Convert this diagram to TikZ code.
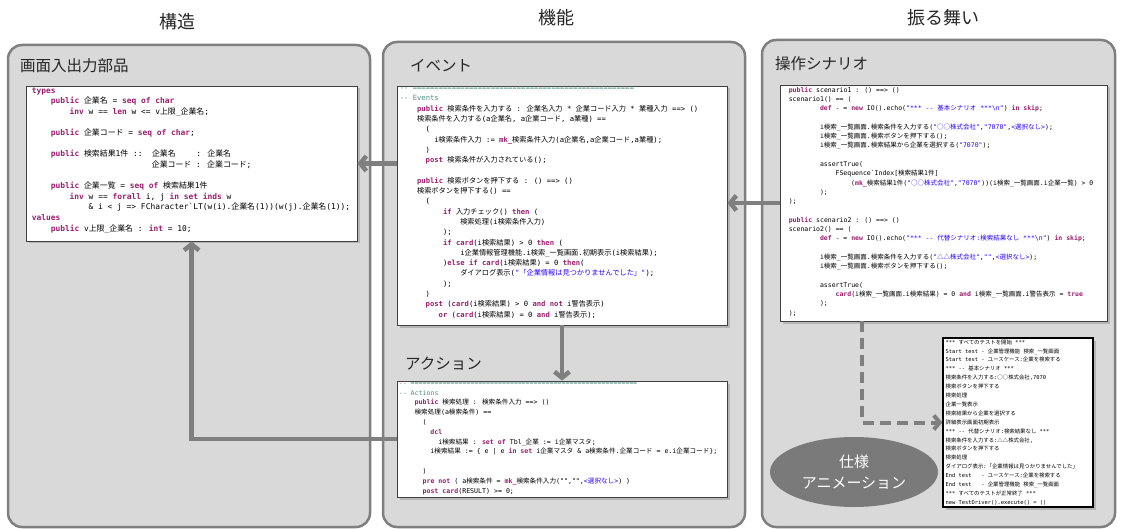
\documentclass[tikz,border=0pt]{standalone}
\usepackage{fontspec}
\usetikzlibrary{arrows.meta,shadows,shapes.geometric}
\setmainfont{Noto Sans CJK JP}
\newfontfamily\cjkf{Noto Sans CJK JP}
\newfontfamily\monof{DejaVu Sans Mono}
\newXeTeXintercharclass\CJKcls
\count255="2500 \loop \XeTeXcharclass\count255=\CJKcls \ifnum\count255<"25FF \advance\count255 by 1 \repeat
\count255="3000 \loop \XeTeXcharclass\count255=\CJKcls \ifnum\count255<"9FFF \advance\count255 by 1 \repeat
\count255="FF00 \loop \XeTeXcharclass\count255=\CJKcls \ifnum\count255<"FFEF \advance\count255 by 1 \repeat
\XeTeXinterchartoks 0 \CJKcls = {\cjkf}
\XeTeXinterchartoks 4095 \CJKcls = {\cjkf}
\XeTeXinterchartoks \CJKcls 0 = {\monof}
\XeTeXinterchartoks \CJKcls 4095 = {\monof}
\definecolor{panelfill}{HTML}{D9D9D9}
\definecolor{panelline}{HTML}{7F7F7F}
\definecolor{arrowc}{HTML}{7F7F7F}
\definecolor{boxline}{HTML}{404040}
\definecolor{kwc}{HTML}{9A1F6E}
\definecolor{strc}{HTML}{2A00FF}
\definecolor{cmc}{HTML}{4F8F7F}
\definecolor{ellc}{HTML}{7A7A7A}
\definecolor{titlec}{HTML}{262626}
\newcommand\kwd[1]{\textcolor{kwc}{\bfseries #1}}
\newcommand\strg[1]{\textcolor{strc}{#1}}
\newcommand\cmnt[1]{\textcolor{cmc}{#1}}
\newcommand\ind[1]{\hspace*{#1\dimexpr0.6em\relax}}
\newcommand\codefont[2]{\monof\fontsize{#1}{#2}\selectfont\XeTeXinterchartokenstate=1 }
\begin{document}
\begin{tikzpicture}[x=1pt,y=-1pt,
  panel/.style={draw=panelline, fill=panelfill, line width=2.5pt, rounded corners=14pt, inner sep=0pt},
  codebox/.style={draw=boxline, fill=white, line width=0.8pt, inner sep=0pt,
    drop shadow={shadow xshift=2.5pt, shadow yshift=-2.5pt, opacity=0.4}},
  codetext/.style={anchor=north west, inner sep=0pt, align=left},
  hdr/.style={inner sep=0pt, text=titlec, font=\cjkf\fontsize{18}{20}\selectfont},
  ptitle/.style={anchor=west, inner sep=0pt, text=titlec, font=\cjkf\fontsize{15.5}{18}\selectfont},
  arr/.style={draw=arrowc, line width=4.5pt, -{Straight Barb[length=6pt,width=15pt]}},
  darr/.style={draw=arrowc, line width=4pt, dash pattern=on 11pt off 6pt, -{Straight Barb[length=6pt,width=14pt]}},
]
\useasboundingbox (0,0) rectangle (1121,529);
\fill[white] (0,0) rectangle (1121,529);

% headers
\node[hdr] (h1) at (177,22) {構造};
\node[hdr] (h2) at (556,18) {機能};
\node[hdr] (h3) at (943,18) {振る舞い};

% panels
\node[panel, minimum width=362pt, minimum height=482pt] (pl) at (189,286) {};
\node[panel, minimum width=362pt, minimum height=485pt] (pm) at (564,284.5) {};
\node[panel, minimum width=353pt, minimum height=487pt] (pr) at (938.5,283.5) {};

% panel titles
\node[ptitle] (t1) at (20,66) {画面入出力部品};
\node[ptitle] (t2) at (410,66) {イベント};
\node[ptitle] (t3) at (775,64) {操作シナリオ};
\node[ptitle] (t4) at (405,364) {アクション};

% code boxes
\node[codebox, minimum width=331pt, minimum height=155pt] (io) at (191.5,163.5) {};
\node[codebox, minimum width=330pt, minimum height=239pt] (evt) at (562,205.5) {};
\node[codebox, minimum width=330pt, minimum height=116pt] (act) at (562,439) {};
\node[codebox, minimum width=327pt, minimum height=236pt] (scn) at (943.5,203) {};
\node[draw=black, fill=white, line width=1.2pt, inner sep=0pt, minimum width=150pt, minimum height=169pt,
  drop shadow={shadow xshift=2.5pt, shadow yshift=-2.5pt, opacity=0.4}] (out) at (1018,422.5) {};

% code texts
\node[codetext, font=\codefont{7.9}{10.6}] (iot) at ([xshift=6pt,yshift=-2pt]io.north west) {%
\kwd{types}\\
\ind4\kwd{public} 企業名 = \kwd{seq of char}\\
\ind8\kwd{inv} w == \kwd{len} w <= v上限\_企業名;\\
\mbox{}\\
\ind4\kwd{public} 企業コード = \kwd{seq of char};\\
\mbox{}\\
\ind4\kwd{public} 検索結果1件 ::\ind2企業名\ind{4.33}: 企業名\\
\ind{25.33}企業コード : 企業コード;\\
\mbox{}\\
\ind4\kwd{public} 企業一覧 = \kwd{seq of} 検索結果1件\\
\ind8\kwd{inv} w == \kwd{forall} i, j \kwd{in set inds} w\\
\ind{12}\& i < j => FCharacter\textasciigrave LT(w(i).企業名(1))(w(j).企業名(1));\\
\kwd{values}\\
\ind4\kwd{public} v上限\_企業名 : \kwd{int} = 10;};

\node[codetext, font=\codefont{7.2}{10.3}] (evtt) at ([xshift=3pt,yshift=-1.5pt]evt.north west) {%
\cmnt{-{}- ===================================================}\\
\cmnt{-{}- Events}\\
\ind4\kwd{public} 検索条件を入力する : 企業名入力 * 企業コード入力 * 業種入力 ==> ()\\
\ind4検索条件を入力する(a企業名, a企業コード, a業種) ==\\
\ind6(\\
\ind8i検索条件入力 := \kwd{mk\_}検索条件入力(a企業名,a企業コード,a業種);\\
\ind6)\\
\ind6\kwd{post} 検索条件が入力されている();\\
\mbox{}\\
\ind4\kwd{public} 検索ボタンを押下する : () ==> ()\\
\ind4検索ボタンを押下する() ==\\
\ind6(\\
\ind{10}\kwd{if} 入力チェック() \kwd{then} (\\
\ind{14}検索処理(i検索条件入力)\\
\ind{10});\\
\ind{10}\kwd{if card}(i検索結果) > 0 \kwd{then} (\\
\ind{14}i企業情報管理機能.i検索\_一覧画面.初期表示(i検索結果);\\
\ind{10})\kwd{else if card}(i検索結果) = 0 \kwd{then}(\\
\ind{14}ダイアログ表示(\strg{"「企業情報は見つかりませんでした」"});\\
\ind{10});\\
\ind6)\\
\ind6\kwd{post} (\kwd{card}(i検索結果) > 0 \kwd{and not} i警告表示)\\
\ind9\kwd{or} (\kwd{card}(i検索結果) = 0 \kwd{and} i警告表示);};

\node[codetext, font=\codefont{6.6}{9.8}] (actt) at ([xshift=2pt,yshift=-1.5pt]act.north west) {%
\cmnt{-{}- =========================================================}\\
\cmnt{-{}- Actions}\\
\ind4\kwd{public} 検索処理 : 検索条件入力 ==> ()\\
\ind4検索処理(a検索条件) ==\\
\ind6(\\
\ind8\kwd{dcl}\\
\ind{10}i検索結果 : \kwd{set of} Tbl\_企業 := i企業マスタ;\\
\ind8i検索結果 := \{ e | e \kwd{in set} i企業マスタ \& a検索条件.企業コード = e.i企業コード\};\\
\mbox{}\\
\ind6)\\
\ind6\kwd{pre not} ( a検索条件 = \kwd{mk\_}検索条件入力("","",\strg{<選択なし>}) )\\
\ind6\kwd{post card}(RESULT) >= 0;};

\node[codetext, font=\codefont{6.5}{9.3}] (scnt) at ([xshift=9pt,yshift=-2pt]scn.north west) {%
\kwd{public} scenario1 : () ==> ()\\
scenario1() == (\\
\ind8\kwd{def} - = \kwd{new} IO().echo(\strg{"*** -{}- 基本シナリオ ***\textbackslash n"}) \kwd{in skip};\\
\mbox{}\\
\ind8i検索\_一覧画面.検索条件を入力する(\strg{"○○株式会社"},\strg{"7070"},\strg{<選択なし>});\\
\ind8i検索\_一覧画面.検索ボタンを押下する();\\
\ind8i検索\_一覧画面.検索結果から企業を選択する(\strg{"7070"});\\
\mbox{}\\
\ind8assertTrue(\\
\ind{12}FSequence\textasciigrave Index[検索結果1件]\\
\ind{16}(\kwd{mk\_}検索結果1件(\strg{"○○株式会社"},\strg{"7070"}))(i検索\_一覧画面.i企業一覧) > 0\\
\ind8);\\
);\\
\mbox{}\\
\kwd{public} scenario2 : () ==> ()\\
scenario2() == (\\
\ind8\kwd{def} - = \kwd{new} IO().echo(\strg{"*** -{}- 代替シナリオ:検索結果なし ***\textbackslash n"}) \kwd{in skip};\\
\mbox{}\\
\ind8i検索\_一覧画面.検索条件を入力する(\strg{"△△株式会社"},\strg{""},\strg{<選択なし>});\\
\ind8i検索\_一覧画面.検索ボタンを押下する();\\
\mbox{}\\
\ind8assertTrue(\\
\ind{12}\kwd{card}(i検索\_一覧画面.i検索結果) = 0 \kwd{and} i検索\_一覧画面.i警告表示 = \kwd{true}\\
\ind8);\\
);};

\node[codetext, font=\codefont{5.4}{8.9}] (outt) at ([xshift=3pt,yshift=-2pt]out.north west) {%
*** すべてのテストを開始 ***\\
Start test - 企業管理機能 検索\_一覧画面\\
Start test - ユースケース:企業を検索する\\
*** -{}- 基本シナリオ ***\\
検索条件を入力する:○○株式会社,7070\\
検索ボタンを押下する\\
検索処理\\
企業一覧表示\\
検索結果から企業を選択する\\
詳細表示画面初期表示\\
*** -{}- 代替シナリオ:検索結果なし ***\\
検索条件を入力する:△△株式会社,\\
検索ボタンを押下する\\
検索処理\\
ダイアログ表示:「企業情報は見つかりませんでした」\\
End test\ind3- ユースケース:企業を検索する\\
End test\ind3- 企業管理機能 検索\_一覧画面\\
*** すべてのテストが正常終了 ***\\
new TestDriver().execute() = ()};

% animation ellipse
\node[ellipse, fill=ellc, minimum width=168pt, minimum height=70pt, inner sep=0pt, text=white, align=center,
  font=\cjkf\fontsize{15}{21}\selectfont] (anim) at (854,472) {仕様\\アニメーション};

% connectors
\draw[arr] (evt.west |- io.east) -- (io.east);
\draw[arr] (scn.west) -- (scn.west -| evt.east);
\draw[arr] (evt.south) -- (act.north);
\draw[arr] (act.west) -- (act.west -| io.south) -- (io.south);
\coordinate (dstart) at ([xshift=-81.5pt]scn.south);
\draw[darr] (dstart) -- (dstart |- out.west) -- (out.west);
\end{tikzpicture}
\end{document}
